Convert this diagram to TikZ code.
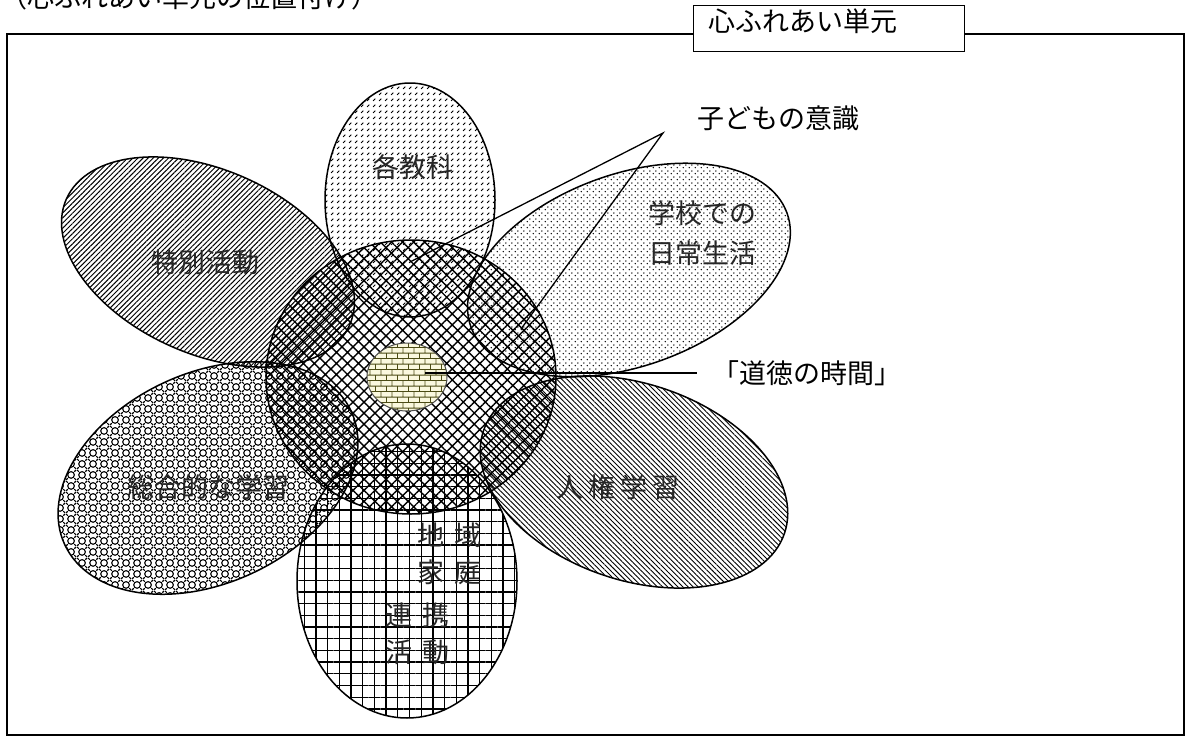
\documentclass[tikz,border=0pt]{standalone}
\usepackage{fontspec}
\newfontfamily\jp{Noto Sans CJK JP}
\usetikzlibrary{patterns.meta}

\tikzdeclarepattern{name=kdash, type=uncolored,
  bounding box={(0pt,0pt) and (6pt,6pt)}, tile size={(6pt,6pt)},
  code={\draw[line width=1.2pt] (1.3pt,1.3pt) -- (3.9pt,3.9pt);}}
\tikzdeclarepattern{name=sdots, type=uncolored,
  bounding box={(0pt,0pt) and (5.6pt,5.6pt)}, tile size={(5.6pt,5.6pt)},
  code={\fill (1.4pt,1.4pt) circle (0.8pt); \fill (4.2pt,4.2pt) circle (0.8pt);}}
\tikzdeclarepattern{name=sphere, type=uncolored,
  bounding box={(0pt,0pt) and (11pt,11pt)}, tile size={(11pt,11pt)},
  code={\draw[line width=1.2pt] (5.5pt,5.5pt) circle (3.6pt);
        \draw[line width=1.2pt] (0pt,0pt)--(2pt,2pt) (11pt,0pt)--(9pt,2pt)
          (0pt,11pt)--(2pt,9pt) (11pt,11pt)--(9pt,9pt);}}
\tikzdeclarepattern{name=brickp, type=uncolored,
  bounding box={(0pt,0pt) and (11.4pt,11.4pt)}, tile size={(11.4pt,11.4pt)},
  code={\draw[line width=0.9pt] (0pt,0.5pt)--(11.4pt,0.5pt) (0pt,6.2pt)--(11.4pt,6.2pt)
          (0.5pt,0.5pt)--(0.5pt,6.2pt) (6.2pt,6.2pt)--(6.2pt,11.4pt);}}

\definecolor{olivebrick}{RGB}{75,75,20}
\definecolor{creamfill}{RGB}{250,248,222}

\tikzset{
  outline/.style={draw=black, line width=1.5pt},
  lbl/.style={font=\jp\fontsize{27}{40}\selectfont, text=black!85, inner sep=0pt},
  callout/.style={draw=black, line width=1.3pt},
  pcross/.style={pattern={Hatch[angle=45,distance=7.8pt,line width=1.4pt]}},
  pgrid/.style={pattern={Hatch[angle=0,distance=11.7pt,line width=1.3pt]}},
  pfwd/.style={pattern={Lines[angle=45,distance=3.6pt,line width=1pt]}},
  pback/.style={pattern={Lines[angle=-45,distance=3.6pt,line width=0.9pt]}},
  pkdash/.style={pattern=kdash},
  psdots/.style={pattern=sdots},
  psphere/.style={pattern=sphere},
}

\begin{document}
\begin{tikzpicture}[x=1pt,y=-1pt]
\useasboundingbox (0,0) rectangle (1192,744);
\fill[white] (0,0) rectangle (1192,744);

% frame
\draw[line width=1.3pt] (7,34) rectangle (1184,735);

% centres
\coordinate (cC) at (411,377);
\coordinate (cK) at (410,200);
\coordinate (cT) at (208,262);
\coordinate (cG) at (629,270);
\coordinate (cS) at (208,478);
\coordinate (cJ) at (634,482);
\coordinate (cB) at (407,581);
\coordinate (cM) at (407,377);

% pattern fills
\path[pfwd, rotate around={-24:(cT)}] (cT) ellipse [x radius=155, y radius=92];
\path[psphere, rotate around={25:(cS)}] (cS) ellipse [x radius=158, y radius=105];
\path[pback, rotate around={-18.9:(cJ)}] (cJ) ellipse [x radius=159, y radius=98];
\path[psdots, rotate around={19.8:(cG)}] (cG) ellipse [x radius=168, y radius=96];
\path[pkdash] (cK) ellipse [x radius=85, y radius=117];
\path[pcross] (cC) ellipse [x radius=145, y radius=137];
\path[pgrid] (cB) ellipse [x radius=110, y radius=137];

% outlines
\path[outline, rotate around={-24:(cT)}] (cT) ellipse [x radius=155, y radius=92];
\path[outline, rotate around={25:(cS)}] (cS) ellipse [x radius=158, y radius=105];
\path[outline, rotate around={-18.9:(cJ)}] (cJ) ellipse [x radius=159, y radius=98];
\path[outline, rotate around={19.8:(cG)}] (cG) ellipse [x radius=168, y radius=96];
\path[outline] (cK) ellipse [x radius=85, y radius=117];
\path[outline] (cC) ellipse [x radius=145, y radius=137];
\path[outline] (cB) ellipse [x radius=110, y radius=137];

% moral-time circle
\fill[creamfill] (cM) ellipse [x radius=40, y radius=34];
\fill[pattern=brickp, pattern color=olivebrick] (cM) ellipse [x radius=40, y radius=34];
\draw[black!70, line width=1pt] (cM) ellipse [x radius=40, y radius=34];

% labels inside petals
\node[lbl] (kakukyoka) at (413,167) {各教科};
\node[lbl] (tokubetsu) at (205,262) {特別活動};
\node[lbl, align=left] (gakko) at (702,233) {学校での\\日常生活};
\node[lbl] (sogo) at (208,487) {総合的な学習};
\node[lbl] (jinken) at (618,487) {人\hspace{5pt}権\hspace{5pt}学\hspace{5pt}習};
\node[lbl, anchor=west] (chiiki) at (417,535) {地\hspace{10pt}域};
\node[lbl, anchor=west] (katei) at (417,572) {家\hspace{10pt}庭};
\node[lbl, anchor=west] (renkei) at (385,615) {連\hspace{10pt}携};
\node[lbl, anchor=west] (katsudo) at (385,652) {活\hspace{10pt}動};

% outside labels
\node[lbl, text=black] (ishiki) at (778,118) {子どもの意識};
\node[lbl, text=black] (dotoku) at (807,373) {「道徳の時間」};

% callouts
\coordinate (kp) at (663,133);
\coordinate (k1) at (410,262);
\coordinate (k2) at (521,329);
\draw[callout] (k1) -- (kp) -- (k2);
\coordinate (d1) at (425,373);
\coordinate (d2) at (697,373);
\draw[callout] (d1) -- (d2);

% title box and caption
\node[draw=black, line width=1.3pt, fill=white, anchor=north west, minimum width=271pt,
      minimum height=46pt, inner sep=0pt] (titlebox) at (693,5) {};
\node[lbl, text=black, anchor=west] (title) at (708,21) {心ふれあい単元};
\node[lbl, text=black, anchor=base west] (caption) at (0,7) {（心ふれあい単元の位置付け）};
\end{tikzpicture}
\end{document}
